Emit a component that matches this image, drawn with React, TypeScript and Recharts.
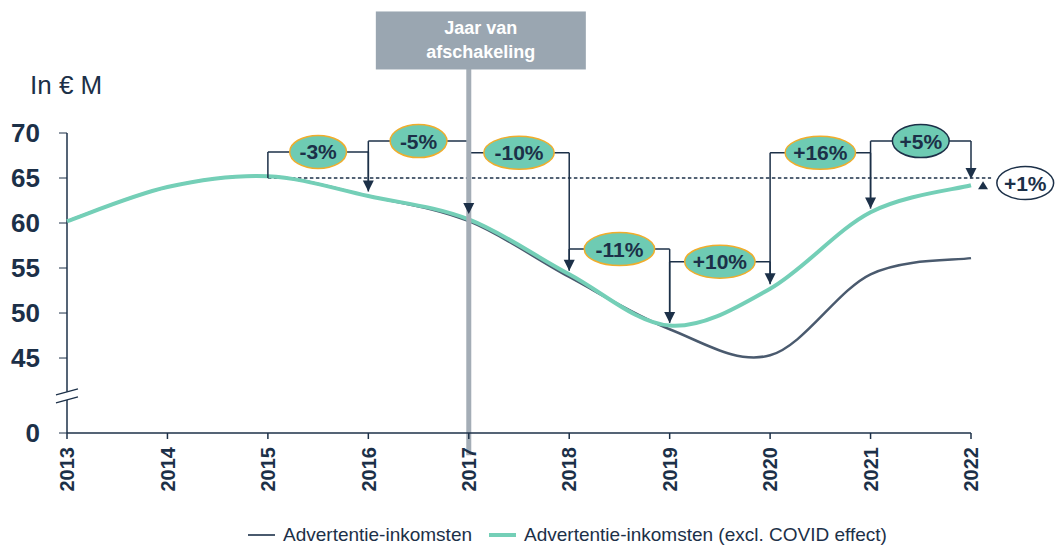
import React from "react";
import {
  Legend,
  Line,
  LineChart,
  ReferenceDot,
  ReferenceLine,
  XAxis,
  YAxis,
} from "recharts";

const YEARS = [2013, 2014, 2015, 2016, 2017, 2018, 2019, 2020, 2021, 2022];
const TOTAL = [60.2, 64.0, 65.2, 63.0, 60.2, 54.0, 48.2, 45.3, 54.3, 56.1];
const EXCL_COVID = [60.2, 64.0, 65.2, 63.0, 60.4, 54.3, 48.6, 52.7, 61.2, 64.2];

// lowest value on the broken axis, labelled "0"
const AXIS_FLOOR = 36.67;
const AXIS_BREAK = 40.8;
const Y_TICKS = [AXIS_FLOOR, 45, 50, 55, 60, 65, 70];

// year-on-year step annotations
const STEP_FROM = [2015, 2016, 2017, 2018, 2019, 2020, 2021];
const STEP_LEVEL = [67.9, 69.1, 67.8, 57.1, 55.7, 67.8, 69.1];
const STEP_ARROW = [63.5, 61.0, 54.7, 48.9, 53.2, 61.6, 64.9];
const STEP_LABELS = ["-3%", "-5%", "-10%", "-11%", "+10%", "+16%", "+5%"];
const DARK_OUTLINE = ["+5%"];

const BASELINE = 65;
const BASELINE_END = 2022.2;
const TOTAL_LABEL = "+1%";
const TOTAL_ARROW = { x: 2022.12, y: 64.65 };
const TOTAL_BUBBLE = { x: 2022.54, y: 64.44 };

const PHASE_OUT_YEAR = 2017;
const PHASE_OUT_LABEL = ["Jaar van", "afschakeling"];

const NAVY = "#1c3048";
const GREY_LINE = "#4a5a6e";
const TEAL = "#74cfb7";
const BUBBLE = "#6ecbb3";
const ORANGE = "#f0ad2c";
const FONT = '"Liberation Sans", Arial, sans-serif';

const rows = YEARS.map((year, i) => ({
  year,
  total: TOTAL[i],
  exclCovid: EXCL_COVID[i],
}));

// office-style smoothed line (Catmull-Rom through every point)
function smoothCurve(context: any) {
  let xs: number[] = [];
  let ys: number[] = [];
  return {
    areaStart() {},
    areaEnd() {},
    lineStart() {
      xs = [];
      ys = [];
    },
    point(x: number, y: number) {
      xs.push(+x);
      ys.push(+y);
    },
    lineEnd() {
      const n = xs.length;
      if (!n) return;
      context.moveTo(xs[0], ys[0]);
      for (let i = 0; i < n - 1; i++) {
        const x0 = i > 0 ? xs[i - 1] : xs[i];
        const y0 = i > 0 ? ys[i - 1] : ys[i];
        const x3 = i + 2 < n ? xs[i + 2] : xs[i + 1];
        const y3 = i + 2 < n ? ys[i + 2] : ys[i + 1];
        context.bezierCurveTo(
          xs[i] + (xs[i + 1] - x0) / 6,
          ys[i] + (ys[i + 1] - y0) / 6,
          xs[i + 1] - (x3 - xs[i]) / 6,
          ys[i + 1] - (y3 - ys[i]) / 6,
          xs[i + 1],
          ys[i + 1]
        );
      }
    },
  };
}

function XTick({ x, y, payload }: any) {
  return (
    <g transform={`translate(${x},${y})`}>
      <text
        transform="rotate(-90)"
        x={-6}
        y={0}
        dy="0.36em"
        textAnchor="end"
        fill={NAVY}
        fontSize={20}
        fontWeight={700}
        fontFamily={FONT}
      >
        {payload.value}
      </text>
    </g>
  );
}

function bubble(label: string, fill: string, outline: string) {
  const rx = 8 + label.length * 6.8;
  return ({ cx, cy }: any) => (
    <g>
      <ellipse cx={cx} cy={cy} rx={rx} ry={16.5} fill={fill} stroke={outline} strokeWidth={1.5} />
      <text
        x={cx}
        y={cy}
        dy="0.36em"
        textAnchor="middle"
        fill={NAVY}
        fontSize={21}
        fontWeight={700}
        fontFamily={FONT}
      >
        {label}
      </text>
    </g>
  );
}

const arrowDown = ({ cx, cy }: any) => (
  <polygon points={`${cx},${cy} ${cx - 5.5},${cy - 11} ${cx + 5.5},${cy - 11}`} fill={NAVY} />
);

const arrowUp = ({ cx, cy }: any) => (
  <polygon points={`${cx},${cy} ${cx - 5},${cy + 8} ${cx + 5},${cy + 8}`} fill={NAVY} />
);

const axisBreak = ({ cx, cy }: any) => (
  <g stroke={NAVY} strokeWidth={1.3}>
    <line x1={cx - 11} y1={cy - 1} x2={cx + 11} y2={cy - 7} />
    <line x1={cx - 11} y1={cy + 7} x2={cx + 11} y2={cy + 1} />
  </g>
);

const phaseOutBox = ({ cx, cy }: any) => (
  <g>
    <rect x={cx - 105} y={cy - 29} width={210} height={58} fill="#9aa6b1" />
    <text textAnchor="middle" fill="#fff" fontSize={18} fontWeight={700} fontFamily={FONT}>
      <tspan x={cx} y={cy - 6}>{PHASE_OUT_LABEL[0]}</tspan>
      <tspan x={cx} y={cy + 18}>{PHASE_OUT_LABEL[1]}</tspan>
    </text>
  </g>
);

function LegendContent() {
  const item = (color: string, width: number, text: string) => (
    <div style={{ display: "flex", alignItems: "center", marginRight: 17 }}>
      <div style={{ width: 27, height: width, background: color, marginRight: 8 }} />
      <span>{text}</span>
    </div>
  );
  return (
    <div
      style={{
        display: "flex",
        paddingLeft: 248,
        paddingTop: 11,
        fontSize: 19,
        color: NAVY,
        fontFamily: FONT,
      }}
    >
      {item(GREY_LINE, 2.5, "Advertentie-inkomsten")}
      {item(TEAL, 4, "Advertentie-inkomsten (excl. COVID effect)")}
    </div>
  );
}

export default function App() {
  return (
    <div style={{ position: "absolute", left: 0, top: 0, width: 1056, height: 545, background: "#fff" }}>
      <div
        style={{
          position: "absolute",
          left: 30,
          top: 70,
          fontSize: 26,
          color: NAVY,
          fontFamily: FONT,
        }}
      >
        In € M
      </div>
      <LineChart
        width={1056}
        height={545}
        data={rows}
        margin={{ top: 133, right: 85, bottom: 0, left: 0 }}
      >
        <XAxis
          dataKey="year"
          type="number"
          domain={[2013, 2022]}
          ticks={YEARS}
          interval={0}
          height={80}
          tickSize={6}
          stroke={NAVY}
          strokeWidth={1.5}
          tick={<XTick />}
        />
        <YAxis
          type="number"
          domain={[AXIS_FLOOR, 70]}
          ticks={Y_TICKS}
          allowDataOverflow
          width={67}
          tickSize={8}
          tickMargin={19}
          axisLine={false}
          stroke={NAVY}
          tickFormatter={(v: number) => (v < 40 ? "0" : String(v))}
          tick={{ fill: NAVY, fontSize: 26, fontWeight: 700, fontFamily: FONT }}
        />
        <Legend verticalAlign="bottom" height={32} content={<LegendContent />} />

        {/* broken y axis */}
        <ReferenceLine
          segment={[{ x: 2013, y: AXIS_FLOOR }, { x: 2013, y: AXIS_BREAK - 0.45 }]}
          stroke={NAVY}
          strokeWidth={1.5}
        />
        <ReferenceLine
          segment={[{ x: 2013, y: AXIS_BREAK + 0.45 }, { x: 2013, y: 70 }]}
          stroke={NAVY}
          strokeWidth={1.5}
        />
        <ReferenceDot x={2013} y={AXIS_BREAK} ifOverflow="visible" shape={axisBreak} />

        <ReferenceLine
          segment={[{ x: 2015, y: BASELINE }, { x: BASELINE_END, y: BASELINE }]}
          stroke={NAVY}
          strokeWidth={1.4}
          strokeDasharray="3.5 2.5"
          ifOverflow="visible"
        />

        <Line
          dataKey="total"
          name="Advertentie-inkomsten"
          type={smoothCurve as any}
          stroke={GREY_LINE}
          strokeWidth={2.5}
          dot={false}
          isAnimationActive={false}
        />
        <Line
          dataKey="exclCovid"
          name="Advertentie-inkomsten (excl. COVID effect)"
          type={smoothCurve as any}
          stroke={TEAL}
          strokeWidth={4}
          dot={false}
          isAnimationActive={false}
        />

        {STEP_FROM.map((from, i) => {
          const start = i === 0 ? BASELINE : STEP_ARROW[i - 1];
          const level = STEP_LEVEL[i];
          return (
            <React.Fragment key={`step-${from}`}>
              <ReferenceLine
                segment={[{ x: from, y: start }, { x: from, y: level }]}
                stroke={NAVY}
                strokeWidth={1.5}
              />
              <ReferenceLine
                segment={[{ x: from, y: level }, { x: from + 1, y: level }]}
                stroke={NAVY}
                strokeWidth={1.5}
              />
              <ReferenceLine
                segment={[{ x: from + 1, y: level }, { x: from + 1, y: STEP_ARROW[i] + 0.2 }]}
                stroke={NAVY}
                strokeWidth={1.5}
              />
            </React.Fragment>
          );
        })}
        {STEP_FROM.map((from, i) => (
          <ReferenceDot key={`arrow-${from}`} x={from + 1} y={STEP_ARROW[i]} shape={arrowDown} />
        ))}

        <ReferenceLine
          segment={[{ x: PHASE_OUT_YEAR, y: 77.2 }, { x: PHASE_OUT_YEAR, y: 34.2 }]}
          stroke="#a4adb6"
          strokeWidth={5}
          ifOverflow="visible"
        />
        <ReferenceDot x={PHASE_OUT_YEAR + 0.12} y={80.28} ifOverflow="visible" shape={phaseOutBox} />

        {STEP_FROM.map((from, i) => (
          <ReferenceDot
            key={`label-${from}`}
            x={from + 0.5}
            y={STEP_LEVEL[i]}
            ifOverflow="visible"
            shape={bubble(
              STEP_LABELS[i],
              BUBBLE,
              DARK_OUTLINE.includes(STEP_LABELS[i]) ? NAVY : ORANGE
            )}
          />
        ))}
        <ReferenceDot x={TOTAL_ARROW.x} y={TOTAL_ARROW.y} ifOverflow="visible" shape={arrowUp} />
        <ReferenceDot
          x={TOTAL_BUBBLE.x}
          y={TOTAL_BUBBLE.y}
          ifOverflow="visible"
          shape={bubble(TOTAL_LABEL, "#fff", NAVY)}
        />
      </LineChart>
    </div>
  );
}
